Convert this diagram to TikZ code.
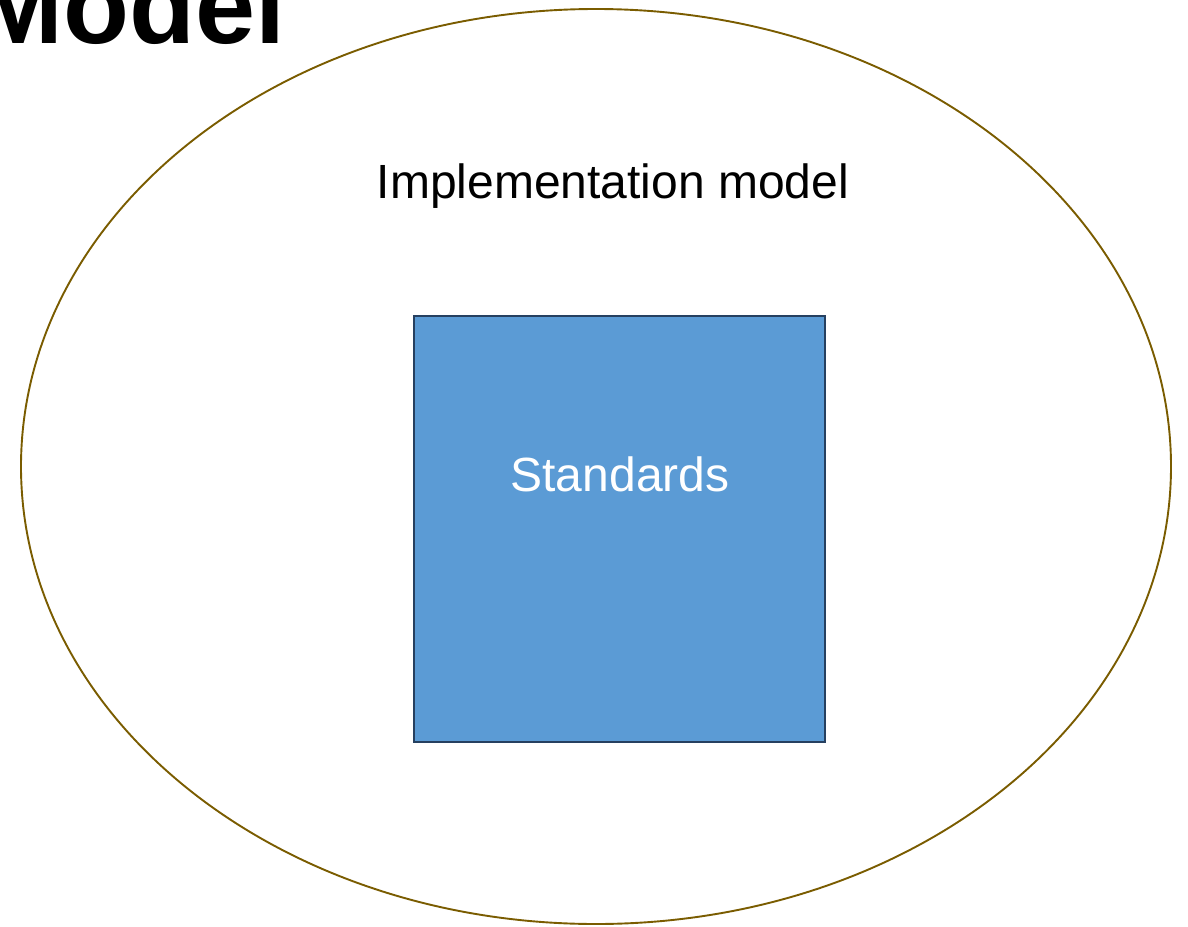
\documentclass[tikz,border=0pt]{standalone}
\usepackage{fontspec}
\setmainfont{Liberation Sans}
\definecolor{ellcol}{RGB}{122,92,0}
\definecolor{boxfill}{RGB}{91,155,213}
\definecolor{boxdraw}{RGB}{38,64,96}
\begin{document}
\begin{tikzpicture}[x=1pt,y=-1pt,
  outer/.style={draw=ellcol,line width=1.9pt},
  stdbox/.style={draw=boxdraw,fill=boxfill,line width=1.9pt,inner sep=0pt,
    minimum width=411pt,minimum height=426pt},
  lbl/.style={inner sep=0pt,font=\fontsize{48}{56}\selectfont}]
\useasboundingbox (0,0) rectangle (1188,926);
\clip (0,0) rectangle (1188,926);
\draw[outer] (596,466.5) ellipse [x radius=575, y radius=457.5];
\node[stdbox] (box) at (619.5,529) {};
\node[lbl,anchor=base] (impl) at (613,198) {Implementation model};
\node[lbl,anchor=base,text=white] (std) at (620,491) {Standards};
\node[inner sep=0pt,anchor=base east,font=\bfseries\fontsize{108}{120}\selectfont] (title) at (285.7,43) {Model};
\end{tikzpicture}
\end{document}
